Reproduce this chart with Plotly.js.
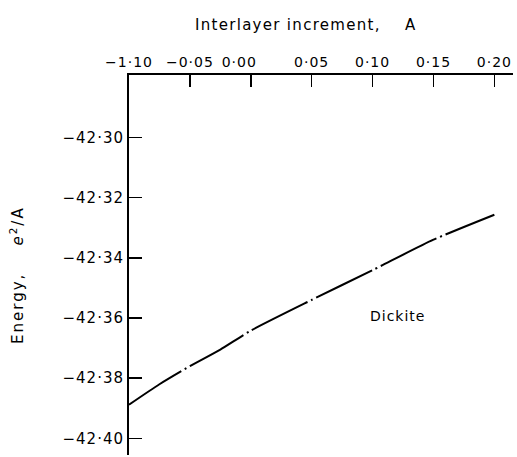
<!DOCTYPE html>
<html>
<head>
<meta charset="utf-8">
<script src="https://cdn.plot.ly/plotly-3.0.1.min.js"></script>
<style>
html,body{margin:0;padding:0;background:#fff}
.xtick text, .ytick text { letter-spacing: 1px; }
.g-xtitle text { letter-spacing: 1.3px; }
.g-ytitle text { letter-spacing: 2px; }
.annotation-text { letter-spacing: 1px; }
</style>
</head>
<body>
<div id="chart" style="width:517px;height:457px"></div>
<script>
// Data
const increment = [-0.10, -0.075, -0.05, -0.025, 0.00, 0.05, 0.10, 0.15, 0.20];
const energy = [-42.3888, -42.3820, -42.3760, -42.3705, -42.3642, -42.3540, -42.3441, -42.3340, -42.3257];
const xTickVals = [-0.10, -0.05, 0.00, 0.05, 0.10, 0.15, 0.20];
const xTickText = ["\u22121\u00b710", "\u22120\u00b705", "0\u00b700\u2003\u2002", "0\u00b705", "0\u00b710", "0\u00b715", "0\u00b720"];
const yTickVals = [-42.30, -42.32, -42.34, -42.36, -42.38, -42.40];
const yTickText = ["\u221242\u00b730", "\u221242\u00b732", "\u221242\u00b734", "\u221242\u00b736", "\u221242\u00b738", "\u221242\u00b740"];
const seriesName = "Dickite";

const font = "DejaVu Sans, Liberation Sans, sans-serif";
const nb = "\u00a0";
const zw = "\u200b";

const trace = {
  x: increment,
  y: energy,
  mode: "lines",
  name: seriesName,
  line: {color: "#000", width: 2, dash: "62px,4px,2px,4px", shape: "spline", smoothing: 0.6},
  hoverinfo: "x+y"
};

const layout = {
  width: 517,
  height: 457,
  margin: {l: 129, r: 4, t: 75, b: 2, pad: 0},
  paper_bgcolor: "#fff",
  plot_bgcolor: "#fff",
  showlegend: false,
  font: {family: font, color: "#000", size: 14},
  xaxis: {
    side: "top",
    range: [-0.10, 0.2153],
    tickvals: xTickVals,
    ticktext: xTickText,
    ticks: "inside",
    ticklen: 12,
    tickwidth: 1.5,
    tickcolor: "#000",
    showline: true,
    linewidth: 2,
    linecolor: "#000",
    showgrid: false,
    zeroline: false,
    tickfont: {family: font, size: 14, color: "#000"},
    title: {text: "Interlayer increment," + nb.repeat(4) + "A" + nb.repeat(5) + zw, font: {family: font, size: 15, color: "#000"}, standoff: 20}
  },
  yaxis: {
    range: [-42.4055, -42.2793],
    tickvals: yTickVals,
    ticktext: yTickText,
    ticks: "inside",
    ticklen: 13,
    tickwidth: 1.5,
    tickcolor: "#000",
    showline: true,
    linewidth: 2,
    linecolor: "#000",
    showgrid: false,
    zeroline: false,
    tickfont: {family: font, size: 15, color: "#000"},
    title: {text: "Energy," + nb.repeat(4) + "<i>e</i><sup>2</sup>/A" + nb.repeat(3) + zw, font: {family: font, size: 15, color: "#000"}, standoff: 35}
  },
  annotations: [{
    x: 0.1208, y: -42.3594, xref: "x", yref: "y",
    text: seriesName, showarrow: false,
    font: {family: font, size: 14, color: "#000"}
  }]
};

Plotly.newPlot("chart", [trace], layout, {displayModeBar: false, staticPlot: true});
</script>
</body>
</html>
